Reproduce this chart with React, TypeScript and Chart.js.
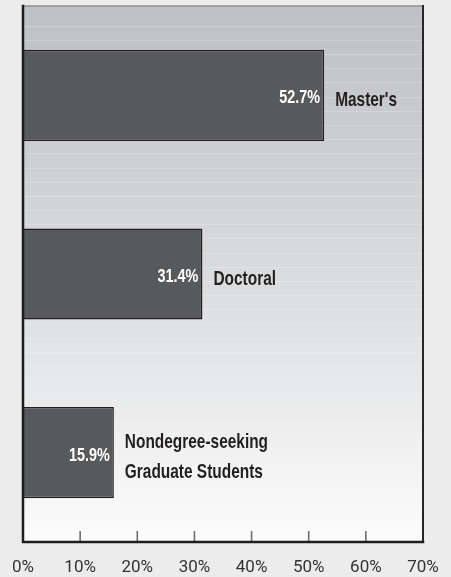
import React, { useEffect, useRef } from "react";
import { Chart, registerables } from "chart.js";

Chart.register(...registerables);

const categories: (string | string[])[] = [
  "Master's",
  "Doctoral",
  ["Nondegree-seeking", "Graduate Students"],
];
const values = [52.7, 31.4, 15.9];
const valueLabels = ["52.7%", "31.4%", "15.9%"];
const xMin = 0;
const xMax = 70;
const xStep = 10;
const innerTickValues = [10, 20, 30, 40, 50, 60];

const BOLD_FONT = "'Liberation Sans', Arial, sans-serif";
const TICK_FONT = "Roboto, 'Liberation Sans', sans-serif";

function drawNarrow(ctx: CanvasRenderingContext2D, text: string, x: number, y: number, align: "left" | "right") {
  const sx = 0.8;
  ctx.save();
  ctx.translate(x, y);
  ctx.scale(sx, 1);
  ctx.textAlign = align;
  ctx.textBaseline = "alphabetic";
  ctx.fillText(text, 0, 0);
  ctx.restore();
}

const panelPlugin = {
  id: "panelPlugin",
  beforeDraw(chart: any) {
    const { ctx, chartArea: a, width, height } = chart;
    ctx.save();
    ctx.fillStyle = "#ececec";
    ctx.fillRect(0, 0, width, height);
    const g = ctx.createLinearGradient(0, a.top, 0, a.bottom);
    g.addColorStop(0, "#bfc0c3");
    g.addColorStop(0.35, "#d1d2d4");
    g.addColorStop(0.7, "#e7e8e9");
    g.addColorStop(1, "#fcfcfc");
    ctx.fillStyle = g;
    ctx.fillRect(a.left, a.top, a.right - a.left, a.bottom - a.top);
    ctx.strokeStyle = "rgba(255,255,255,0.2)";
    ctx.lineWidth = 1;
    for (let y = a.top + 19.5; y < a.bottom - 20; y += 14.2) {
      ctx.beginPath();
      ctx.moveTo(a.left, Math.round(y) + 0.5);
      ctx.lineTo(a.right, Math.round(y) + 0.5);
      ctx.stroke();
    }
    ctx.restore();
  },
  afterDatasetsDraw(chart: any) {
    const { ctx, chartArea: a } = chart;
    const xs = chart.scales.x;
    ctx.save();
    // inner tick marks
    ctx.strokeStyle = "#6d6e70";
    ctx.lineWidth = 1.6;
    innerTickValues.forEach((v) => {
      const x = xs.getPixelForValue(v);
      ctx.beginPath();
      ctx.moveTo(x, a.bottom - 11);
      ctx.lineTo(x, a.bottom);
      ctx.stroke();
    });
    // borders
    ctx.lineCap = "square";
    ctx.strokeStyle = "#8e8f91";
    ctx.lineWidth = 1.5;
    ctx.beginPath();
    ctx.moveTo(a.left, a.top);
    ctx.lineTo(a.right, a.top);
    ctx.stroke();
    ctx.strokeStyle = "#262626";
    ctx.lineWidth = 2;
    ctx.beginPath();
    ctx.moveTo(a.right, a.top);
    ctx.lineTo(a.right, a.bottom);
    ctx.stroke();
    ctx.strokeStyle = "#1e1e1e";
    ctx.lineWidth = 2.5;
    ctx.beginPath();
    ctx.moveTo(a.left, a.top);
    ctx.lineTo(a.left, a.bottom);
    ctx.lineTo(a.right, a.bottom);
    ctx.stroke();

    // labels
    const meta = chart.getDatasetMeta(0);
    meta.data.forEach((bar: any, i: number) => {
      const cy = bar.y;
      ctx.font = `bold 18px ${BOLD_FONT}`;
      ctx.fillStyle = "#ffffff";
      drawNarrow(ctx, valueLabels[i], bar.x - 4, cy + 8, "right");
      const cat = categories[i];
      const lines = Array.isArray(cat) ? cat : [cat];
      const lh = 30;
      ctx.font = `bold 19.3px ${BOLD_FONT}`;
      ctx.fillStyle = "#231f20";
      lines.forEach((ln, k) => {
        const y = cy + 10.5 - ((lines.length - 1) * lh) / 2 + k * lh;
        drawNarrow(ctx, ln, bar.x + 11, y, "left");
      });
    });
    ctx.restore();
  },
};

export default function App() {
  const ref = useRef<HTMLCanvasElement | null>(null);
  useEffect(() => {
    document.body.style.margin = "0";
    document.body.style.background = "#ececec";
    const canvas = ref.current;
    if (!canvas) return;
    const chart = new Chart(canvas, {
      type: "bar",
      data: {
        labels: categories as any,
        datasets: [
          {
            data: values,
            backgroundColor: "#58595b",
            borderColor: "#231f20",
            borderWidth: 1.5,
            barPercentage: 0.51,
            categoryPercentage: 1,
          },
        ],
      },
      options: {
        indexAxis: "y",
        animation: false,
        responsive: false,
        maintainAspectRatio: false,
        devicePixelRatio: 1,
        layout: { padding: { top: 6, left: 23, right: 28, bottom: 0 } },
        plugins: { legend: { display: false }, tooltip: { enabled: false } },
        scales: {
          x: {
            type: "linear",
            position: "bottom",
            min: xMin,
            max: xMax,
            grid: { display: false, drawTicks: false },
            border: { display: false },
            ticks: {
              stepSize: xStep,
              padding: 16,
              color: "#333333",
              font: { family: TICK_FONT, size: 17 },
              maxRotation: 0,
              callback: (v: any) => `${v}%`,
            },
            afterFit: (s: any) => {
              s.height = 35;
              s.paddingLeft = 0;
              s.paddingRight = 0;
            },
          },
          y: { display: false },
        },
      },
      plugins: [panelPlugin],
    });
    return () => chart.destroy();
  }, []);
  return (
    <div style={{ width: 451, height: 577 }}>
      <canvas ref={ref} width={451} height={577} style={{ display: "block" }} />
    </div>
  );
}
